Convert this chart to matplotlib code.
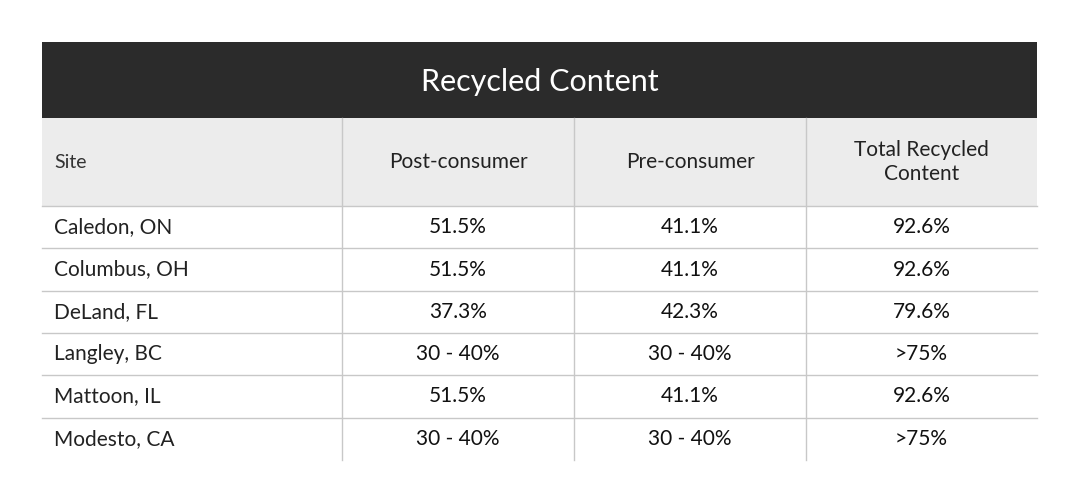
import matplotlib
matplotlib.use("Agg")
import matplotlib.pyplot as plt
from matplotlib.patches import Rectangle

title = "Recycled Content"
columns = ["Site", "Post-consumer", "Pre-consumer", "Total Recycled\nContent"]
sites = ["Caledon, ON", "Columbus, OH", "DeLand, FL", "Langley, BC", "Mattoon, IL", "Modesto, CA"]
post_consumer = ["51.5%", "51.5%", "37.3%", "30 - 40%", "51.5%", "30 - 40%"]
pre_consumer = ["41.1%", "41.1%", "42.3%", "30 - 40%", "41.1%", "30 - 40%"]
total = ["92.6%", "92.6%", "79.6%", ">75%", "92.6%", ">75%"]

plt.rcParams['font.family'] = ['Lato', 'DejaVu Sans']
fig = plt.figure(figsize=(10.8, 5.04), dpi=100)
ax = fig.add_axes([0, 0, 1, 1])
ax.set_xlim(0, 1080); ax.set_ylim(504, 0); ax.axis('off')

xs = [42, 342, 574, 806, 1037]
top, hb, hh = 42, 118, 206
rh = (460 - hh) / len(sites)
ax.add_patch(Rectangle((xs[0], top), xs[-1]-xs[0], hb-top, color='#2b2b2b', lw=0))
ax.text((xs[0]+xs[-1])/2, (top+hb)/2+2, title, color='white', fontsize=22, ha='center', va='center')
ax.add_patch(Rectangle((xs[0], hb), xs[-1]-xs[0], hh-hb, color='#ececec', lw=0))
lc = '#c8c8c8'
for x in xs[1:-1]:
    ax.plot([x, x], [hb, 460], color=lc, lw=1)
for i in range(len(sites)):
    y = hh + i*rh
    ax.plot([xs[0], xs[-1]], [y, y], color=lc, lw=1)
for j, c in enumerate(columns):
    if j == 0:
        ax.text(xs[0]+12, (hb+hh)/2, c, fontsize=14, ha='left', va='center', color='#333333')
    else:
        ax.text((xs[j]+xs[j+1])/2, (hb+hh)/2, c, fontsize=15, ha='center', va='center',
                color='#222222', linespacing=1.2)
for i in range(len(sites)):
    yc = hh + (i+0.5)*rh
    ax.text(xs[0]+12, yc, sites[i], fontsize=15, ha='left', va='center', color='#222222')
    for j, v in enumerate([post_consumer[i], pre_consumer[i], total[i]], start=1):
        ax.text((xs[j]+xs[j+1])/2, yc, v, fontsize=15, ha='center', va='center', color='#111111')
fig.savefig('out.png', dpi=100, facecolor='white')
